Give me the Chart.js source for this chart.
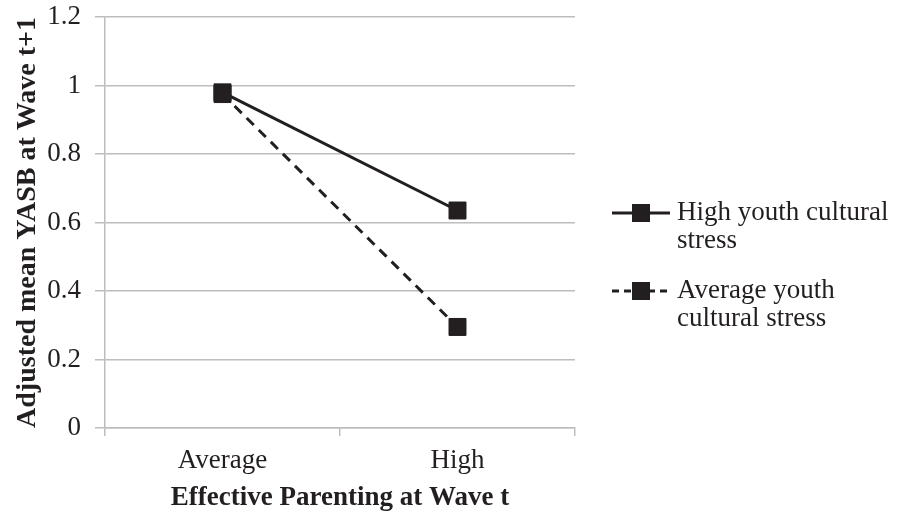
<!DOCTYPE html>
<html>
<head>
<meta charset="utf-8">
<script src="https://cdn.jsdelivr.net/npm/chart.js@4.4.0/dist/chart.umd.min.js"></script>
<style>
  html, body { margin: 0; padding: 0; background: #fff; }
  #wrap { width: 898px; height: 516px; position: relative; }
</style>
</head>
<body>
<div id="wrap"><canvas id="graphique"></canvas></div>
<script>
// donnees
const categories = ['Average', 'High'];
const highStress = [0.98, 0.635];
const avgStress = [0.975, 0.295];
const seriesNames = [['High youth cultural', 'stress'], ['Average youth', 'cultural stress']];
const yTicks = [0, 0.2, 0.4, 0.6, 0.8, 1, 1.2];

const ink = '#231f20';
const grille = '#bdbdbd';
const police = "'Liberation Serif', 'Times New Roman', serif";

// legende dessinee a droite du graphique
const legendeDroite = {
  id: 'legendeDroite',
  afterDraw(chart) {
    const ctx = chart.ctx;
    const x0 = 612, x1 = 670, xt = 677;
    const tops = [213, 291];
    ctx.save();
    chart.data.datasets.forEach((ds, i) => {
      const y = tops[i];
      ctx.strokeStyle = ds.borderColor;
      ctx.lineWidth = ds.borderWidth;
      ctx.setLineDash(i === 1 ? [7, 5] : []);
      ctx.beginPath();
      ctx.moveTo(x0, y);
      ctx.lineTo(x1, y);
      ctx.stroke();
      ctx.setLineDash([]);
      ctx.fillStyle = ds.pointBackgroundColor;
      ctx.fillRect((x0 + x1) / 2 - 9, y - 9, 18, 18);
      ctx.fillStyle = ink;
      ctx.font = '27px ' + police;
      ctx.textBaseline = 'middle';
      ctx.textAlign = 'left';
      seriesNames[i].forEach((t, k) => ctx.fillText(t, xt, y + k * 28));
    });
    ctx.restore();
  }
};

const ctx = document.getElementById('graphique').getContext('2d');
const graphique = new Chart(ctx, {
  type: 'line',
  data: {
    labels: categories,
    datasets: [{
      label: seriesNames[0].join(' '),
      data: highStress,
      borderColor: ink,
      borderWidth: 3,
      pointStyle: 'rect',
      pointRadius: 12,
      pointBorderWidth: 1,
      pointBackgroundColor: ink,
      pointBorderColor: ink
    }, {
      label: seriesNames[1].join(' '),
      data: avgStress,
      borderColor: ink,
      borderWidth: 3,
      borderDash: [10, 7],
      pointStyle: 'rect',
      pointRadius: 12,
      pointBorderWidth: 1,
      pointBackgroundColor: ink,
      pointBorderColor: ink
    }]
  },
  options: {
    responsive: true,
    maintainAspectRatio: false,
    animation: false,
    layout: { padding: { top: 17, right: 323, left: 0, bottom: 0 } },
    plugins: { legend: { display: false }, tooltip: { enabled: false } },
    scales: {
      x: {
        offset: true,
        grid: { offset: true, drawOnChartArea: false, drawTicks: true, tickLength: 8, color: grille, lineWidth: 1.5 },
        border: { color: grille, width: 1.5 },
        ticks: { color: ink, font: { family: police, size: 27 }, padding: 9 },
        title: { display: true, text: 'Effective Parenting at Wave t', color: ink,
                 font: { family: police, size: 27, weight: 'bold' }, padding: { top: 2, bottom: 2 } },
        afterFit(scale) { scale.height = 88; scale.paddingLeft = 0; scale.paddingRight = 0; }
      },
      y: {
        min: 0,
        max: 1.2,
        afterBuildTicks(scale) { scale.ticks = yTicks.map(v => ({ value: v })); },
        grid: { color: grille, lineWidth: 1.5, tickLength: 10 },
        border: { color: grille, width: 1.5 },
        ticks: { color: ink, font: { family: police, size: 27 }, padding: 14,
                 callback: v => String(Number(v.toFixed(1))) },
        title: { display: true, text: 'Adjusted mean YASB at Wave t+1', color: ink,
                 font: { family: police, size: 28, weight: 'bold' }, padding: { top: 11, bottom: 11 } },
        afterFit(scale) { scale.width = 105; scale.paddingTop = 0; scale.paddingBottom = 0; }
      }
    }
  },
  plugins: [legendeDroite]
});
</script>
</body>
</html>
